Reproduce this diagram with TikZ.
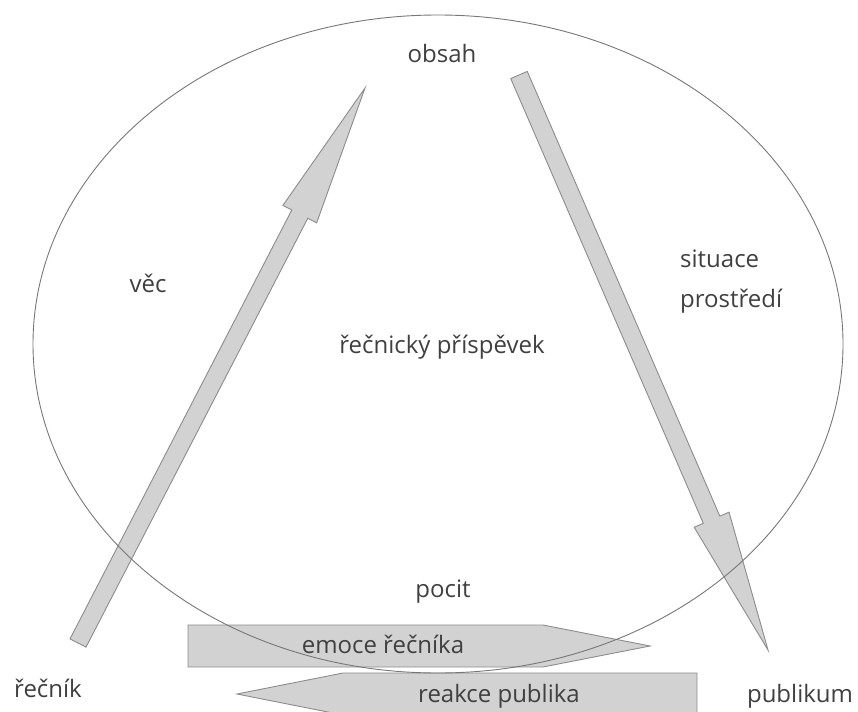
\documentclass[tikz,border=0pt]{standalone}
\usepackage{fontspec}
\setmainfont{Open Sans}
\usetikzlibrary{calc}
\definecolor{cfill}{HTML}{D2D2D2}
\definecolor{cedge}{HTML}{8C8C8C}
\definecolor{cline}{HTML}{777777}
\definecolor{ctext}{HTML}{404040}
\tikzset{
  every picture/.style={x=1pt, y=-1pt},
  lbl/.style={font=\fontsize{24}{28}\selectfont, text=ctext, inner sep=0pt, anchor=base},
  bigarrow/.style={draw=cedge, fill=cfill, line width=0.9pt, line join=miter},
  ring/.style={draw=cline, line width=0.9pt},
}
% fat arrow: name, tail, tip
\newcommand{\fatarrow}[3]{%
  \coordinate (#1-b) at ($(#3)!142pt!(#2)$);
  \draw[bigarrow] ($(#2)!9pt!90:(#3)$) -- ($(#1-b)!9pt!90:(#3)$) -- ($(#1-b)!19pt!90:(#3)$)
    -- (#3) -- ($(#1-b)!19pt!-90:(#3)$) -- ($(#1-b)!9pt!-90:(#3)$) -- ($(#2)!9pt!-90:(#3)$) -- cycle;
}

\begin{document}
\begin{tikzpicture}
  \useasboundingbox (0,0) rectangle (858,711);
  \clip (0,0) rectangle (858,711);
  % ends of the two long arrows
  \coordinate (vtail) at (78,643);
  \coordinate (vtip)  at (365,88);
  \coordinate (stail) at (519,75);
  \coordinate (stip)  at (768,650);
  \fatarrow{vec}{vtail}{vtip}
  \fatarrow{sit}{stail}{stip}
  % feeling arrows at the bottom
  \draw[bigarrow] (188,625) -- (543,625) -- (650,646) -- (543,667) -- (188,667) -- cycle;
  \draw[bigarrow] (697,673) -- (343,673) -- (237,694) -- (343,715) -- (697,715) -- cycle;
  \draw[ring] (438,344) ellipse [x radius=405pt, y radius=329pt];
  % labels
  \node[lbl] (obsah)   at (442,63)  {obsah};
  \node[lbl] (vec)     at (148,292) {věc};
  \node[lbl, anchor=base west] (situace) at (680,267) {situace};
  \node[lbl, anchor=base west] (prostredi) at (680,307) {prostředí};
  \node[lbl] (prispevek) at (442,353) {řečnický příspěvek};
  \node[lbl] (pocit)   at (443,597) {pocit};
  \node[lbl] (emoce)   at (383,653) {emoce řečníka};
  \node[lbl] (reakce)  at (499,702) {reakce publika};
  \node[lbl] (recnik)  at (48,697)  {řečník};
  \node[lbl] (publikum) at (800,702) {publikum};
\end{tikzpicture}
\end{document}
